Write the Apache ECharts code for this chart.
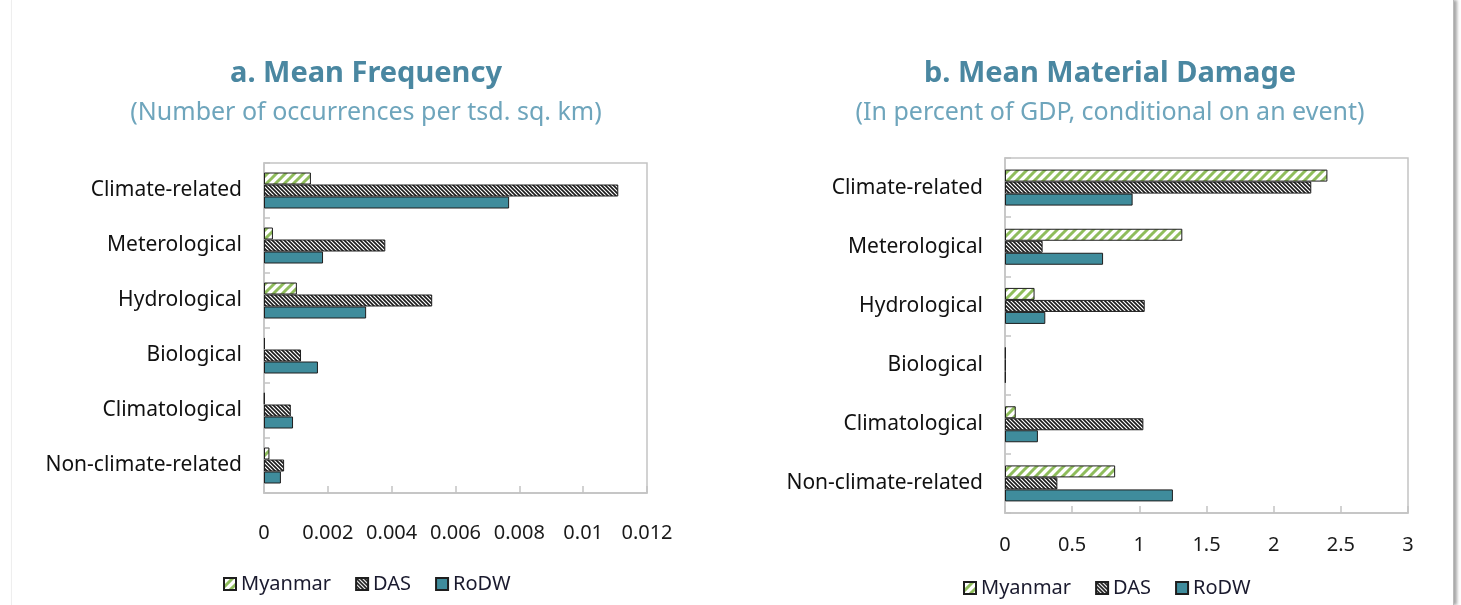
<!DOCTYPE html>
<html lang="en">
<head>
    <meta charset="UTF-8">
    <title>Mean Frequency and Material Damage</title>
    <script src="https://cdn.jsdelivr.net/npm/echarts@6.0.0/dist/echarts.min.js"></script>
    <style>
        body {
            margin: 0;
            background-color: #fff;
            font-family: "Noto Sans", sans-serif;
        }

        .frame {
            position: absolute;
            left: 11px;
            top: 0;
            width: 1441px;
            height: 605px;
            border-left: 1px solid #eeeeee;
            border-right: 1px solid #bbbbbb;
            box-shadow: 3px 0 3px rgba(0, 0, 0, 0.35);
        }

        #chart {
            position: absolute;
            left: 0;
            top: 0;
            width: 1461px;
            height: 605px;
        }
    </style>
</head>
<body>
    <div class="frame"></div>
    <div id="chart"></div>

    <script>
        // categories, top to bottom
        const categories = ['Climate-related', 'Meterological', 'Hydrological', 'Biological', 'Climatological', 'Non-climate-related'];
        const seriesNames = ['Myanmar', 'DAS', 'RoDW'];

        // a. mean frequency (occurrences per tsd. sq. km)
        const freqMyanmar = [0.00147, 0.00028, 0.00103, 0.00003, 0.00002, 0.00017];
        const freqDAS = [0.0111, 0.0038, 0.00527, 0.00116, 0.00084, 0.00063];
        const freqRoDW = [0.00768, 0.00185, 0.0032, 0.00169, 0.00091, 0.00053];

        // b. mean material damage (percent of GDP)
        const dmgMyanmar = [2.40, 1.32, 0.22, 0.005, 0.08, 0.82];
        const dmgDAS = [2.28, 0.28, 1.04, 0.005, 1.03, 0.39];
        const dmgRoDW = [0.95, 0.73, 0.30, 0.005, 0.245, 1.25];

        // hatch fills
        function hatch(size, color, width, forward) {
            const c = document.createElement('canvas');
            c.width = size;
            c.height = size;
            const ctx = c.getContext('2d');
            ctx.fillStyle = '#fff';
            ctx.fillRect(0, 0, size, size);
            ctx.strokeStyle = color;
            ctx.lineWidth = width;
            ctx.beginPath();
            if (forward) {
                ctx.moveTo(0, size); ctx.lineTo(size, 0);
                ctx.moveTo(-1, 1); ctx.lineTo(1, -1);
                ctx.moveTo(size - 1, size + 1); ctx.lineTo(size + 1, size - 1);
            } else {
                ctx.moveTo(0, 0); ctx.lineTo(size, size);
                ctx.moveTo(-1, size - 1); ctx.lineTo(1, size + 1);
                ctx.moveTo(size - 1, -1); ctx.lineTo(size + 1, 1);
            }
            ctx.stroke();
            return { image: c, repeat: 'repeat' };
        }

        const greenHatch = hatch(9, '#8fbd5c', 3, true);
        const blackHatch = hatch(4, '#1a1a1a', 1.6, false);
        const teal = '#3f8c9c';
        const fills = [greenHatch, blackHatch, teal];

        const titleColor = '#4a87a1';
        const subColor = '#6ea5bc';

        function makeSeries(data, idx, axisIdx) {
            return {
                name: seriesNames[idx],
                type: 'bar',
                xAxisIndex: axisIdx,
                yAxisIndex: axisIdx,
                data: data,
                barWidth: 12,
                barGap: '0%',
                itemStyle: {
                    color: fills[idx],
                    borderColor: '#1e1e1e',
                    borderWidth: 1
                }
            };
        }

        function valueAxis(gridIdx, max, interval, fmt) {
            return {
                type: 'value',
                gridIndex: gridIdx,
                min: 0,
                max: max,
                interval: interval,
                axisLine: { show: true, lineStyle: { color: '#c4c4c4', width: 1.5 } },
                axisTick: { show: true, inside: true, length: 7, lineStyle: { color: '#c4c4c4', width: 1.5 } },
                splitLine: { show: false },
                axisLabel: {
                    color: '#1a1a1a',
                    fontSize: 20,
                    fontFamily: 'Noto Sans',
                    margin: gridIdx === 0 ? 30 : 22,
                    formatter: fmt
                }
            };
        }

        function catAxis(gridIdx) {
            return {
                type: 'category',
                gridIndex: gridIdx,
                data: categories,
                inverse: true,
                axisLine: { show: true, lineStyle: { color: '#c4c4c4', width: 1.5 } },
                axisTick: { show: true, inside: true, length: 6, lineStyle: { color: '#c4c4c4', width: 1.5 } },
                axisLabel: {
                    color: '#111',
                    fontSize: 21,
                    fontFamily: 'Noto Sans',
                    margin: 22
                }
            };
        }

        function legendAt(left, top) {
            return {
                data: seriesNames,
                left: left,
                top: top,
                itemWidth: 12,
                itemHeight: 12,
                itemGap: 24,
                icon: 'rect',
                textStyle: { color: '#1a1a2e', fontSize: 20, fontFamily: 'Noto Sans' }
            };
        }

        function titleAt(center, text, sub) {
            return {
                text: text,
                subtext: sub,
                left: center,
                top: 54,
                textAlign: 'center',
                itemGap: 12,
                textStyle: { color: titleColor, fontSize: 29, fontWeight: 'bold', fontFamily: 'Noto Sans' },
                subtextStyle: { color: subColor, fontSize: 25, fontFamily: 'Noto Sans' }
            };
        }

        const chart = echarts.init(document.getElementById('chart'));
        chart.setOption({
            animation: false,
            title: [
                titleAt(361, 'a. Mean Frequency', '(Number of occurrences per tsd. sq. km)'),
                titleAt(1105, 'b. Mean Material Damage', '(In percent of GDP, conditional on an event)')
            ],
            legend: [legendAt(218, 569), legendAt(958, 573)],
            grid: [
                { left: 264, top: 163, width: 383, height: 330, show: true, borderColor: '#c4c4c4', borderWidth: 1.5 },
                { left: 1005, top: 158, width: 403, height: 355, show: true, borderColor: '#c4c4c4', borderWidth: 1.5 }
            ],
            xAxis: [
                valueAxis(0, 0.012, 0.002, v => String(+v.toFixed(3))),
                valueAxis(1, 3, 0.5, v => String(v))
            ],
            yAxis: [catAxis(0), catAxis(1)],
            series: [
                makeSeries(freqMyanmar, 0, 0),
                makeSeries(freqDAS, 1, 0),
                makeSeries(freqRoDW, 2, 0),
                makeSeries(dmgMyanmar, 0, 1),
                makeSeries(dmgDAS, 1, 1),
                makeSeries(dmgRoDW, 2, 1)
            ]
        });
    </script>
</body>
</html>
